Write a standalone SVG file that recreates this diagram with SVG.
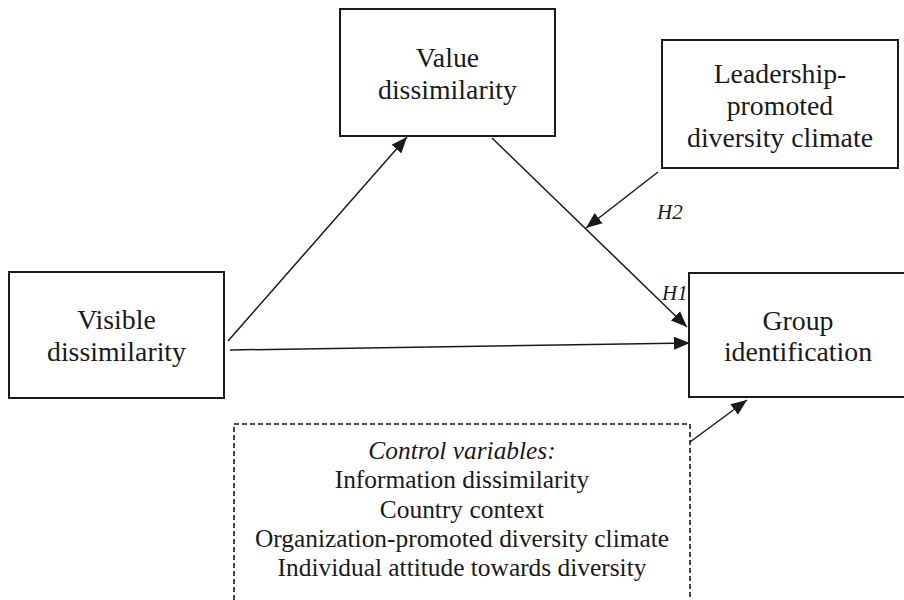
<svg xmlns="http://www.w3.org/2000/svg" width="904" height="600" viewBox="0 0 904 600">
<style>
  .box { fill: #ffffff; stroke: #1a1a1a; stroke-width: 2; }
  .dash { fill: none; stroke: #1a1a1a; stroke-width: 1.6; stroke-dasharray: 5 3; }
  text { font-family: 'Liberation Serif', 'Tinos', 'DejaVu Serif', serif; fill: #1a1a1a; }
  .t { font-size: 27.8px; text-anchor: middle; }
  .c { font-size: 25.4px; text-anchor: middle; }
  .h { font-size: 21px; font-style: italic; }
  .edge { stroke: #1a1a1a; stroke-width: 1.5; fill: none; marker-end: url(#arr); }
</style>
<defs>
  <marker id="arr" markerUnits="userSpaceOnUse" markerWidth="18" markerHeight="14" refX="16" refY="7" orient="auto">
    <path d="M0,0.5 L16,7 L0,13.5 Z" fill="#1a1a1a"/>
  </marker>
</defs>
<rect width="904" height="600" fill="#ffffff"/>

<g id="value">
  <rect class="box" x="340" y="9" width="215" height="127"/>
  <text class="t" x="447.5" y="67">Value</text>
  <text class="t" x="447.5" y="98.5">dissimilarity</text>
</g>

<g id="leadership">
  <rect class="box" x="662" y="40" width="236" height="128"/>
  <text class="t" x="780" y="83">Leadership-</text>
  <text class="t" x="780" y="115">promoted</text>
  <text class="t" x="780" y="147">diversity climate</text>
</g>

<g id="visible">
  <rect class="box" x="9" y="272" width="215" height="126"/>
  <text class="t" x="116.5" y="329">Visible</text>
  <text class="t" x="116.5" y="361">dissimilarity</text>
</g>

<g id="group">
  <rect class="box" x="689" y="273" width="220" height="124"/>
  <text class="t" x="798" y="330">Group</text>
  <text class="t" x="798" y="361">identification</text>
</g>

<g id="controls">
  <rect class="dash" x="234" y="424" width="456" height="200"/>
  <text class="c" x="462" y="459" font-style="italic">Control variables:</text>
  <text class="c" x="462" y="488">Information dissimilarity</text>
  <text class="c" x="462" y="518">Country context</text>
  <text class="c" x="462" y="547">Organization-promoted diversity climate</text>
  <text class="c" x="462" y="576">Individual attitude towards diversity</text>
</g>

<g id="connectors">
  <line class="edge" x1="228" y1="341" x2="407" y2="137"/>
  <line class="edge" x1="492" y1="138" x2="687" y2="327"/>
  <line class="edge" x1="658" y1="172" x2="586" y2="228"/>
  <line class="edge" x1="230" y1="350" x2="690" y2="343"/>
  <line class="edge" x1="690" y1="442" x2="747" y2="400"/>
  <text class="h" x="657" y="219">H2</text>
  <text class="h" x="662" y="300">H1</text>
</g>
</svg>
